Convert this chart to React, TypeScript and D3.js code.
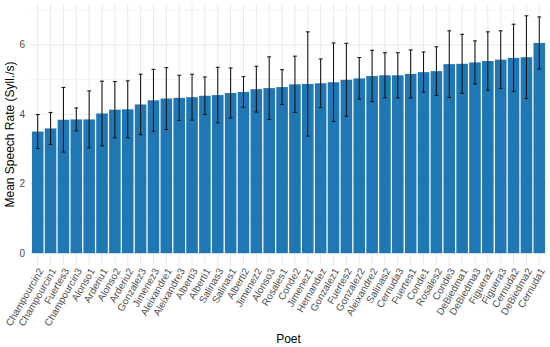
import React from "react";
import * as d3 from "d3";

const poets = [
  "Champourcin2", "Champourcin1", "Fuertes3", "Champourcin3", "Alonso1", "Arderiu1", "Alonso2", "Arderiu2",
  "Gonzalez3", "Jimenez3", "Aleixandre1", "Aleixandre3", "Alberti3", "Alberti1", "Salinas3", "Salinas1",
  "Alberti2", "Jimenez2", "Alonso3", "Rosales1", "Conde2", "Jimenez1", "Hernandez", "Gonzalez1",
  "Fuertes2", "Gonzalez2", "Aleixandre2", "Salinas2", "Cernuda3", "Fuertes1", "Conde1", "Rosales2",
  "Conde3", "DeBiedma1", "DeBiedma3", "Figuera2", "Figuera3", "Cernuda2", "DeBiedma2", "Cernuda1",
];

const meanRate = [
  3.5, 3.59, 3.84, 3.85, 3.85, 4.02, 4.13, 4.14,
  4.28, 4.4, 4.45, 4.47, 4.49, 4.53, 4.55, 4.61,
  4.64, 4.72, 4.75, 4.78, 4.86, 4.87, 4.89, 4.92,
  4.99, 5.03, 5.1, 5.12, 5.12, 5.16, 5.21, 5.24,
  5.44, 5.45, 5.49, 5.53, 5.57, 5.62, 5.64, 6.05,
];

const sdRate = [
  0.49, 0.46, 0.93, 0.33, 0.82, 0.93, 0.81, 0.82,
  0.87, 0.89, 0.89, 0.65, 0.66, 0.54, 0.8, 0.72,
  0.44, 0.66, 0.9, 0.5, 0.81, 1.5, 0.7, 1.13,
  1.05, 0.6, 0.74, 0.65, 0.65, 0.69, 0.58, 0.7,
  0.96, 0.85, 0.62, 0.84, 0.83, 0.97, 1.19, 0.75,
];

const yTicks = [0, 2, 4, 6];
const yMinor = [1, 3, 5, 7];

const W = 550;
const H = 347;
const panel = { left: 30, right: 547, top: 4, bottom: 265 };
const FONT = "'Liberation Sans', Arial, Helvetica, sans-serif";

export default function App() {
  const n = poets.length;
  const step = (panel.right - panel.left) / (n - 1 + 1.2);
  const x = d3
    .scalePoint<string>()
    .domain(poets)
    .range([panel.left + 0.6 * step, panel.right - 0.6 * step]);
  const barW = step * 0.9;
  const capW = step * 0.3;

  const hi = meanRate.map((m, i) => m + sdRate[i]);
  const yMax = d3.max(hi) as number;
  const pad = yMax * 0.05;
  const y = d3
    .scaleLinear()
    .domain([-pad, yMax + pad])
    .range([panel.bottom, panel.top]);

  return (
    <svg
      width={W}
      height={H}
      style={{ position: "absolute", left: 0, top: 0, background: "#fff" }}
      fontFamily={FONT}
    >
      {/* minor grid */}
      {yMinor
        .filter((v) => y(v) >= panel.top)
        .map((v) => (
          <line key={"mn" + v} x1={panel.left} x2={panel.right} y1={y(v)} y2={y(v)} stroke="#ebebeb" strokeWidth={0.55} />
        ))}
      {/* major grid */}
      {yTicks.map((v) => (
        <line key={"mj" + v} x1={panel.left} x2={panel.right} y1={y(v)} y2={y(v)} stroke="#ebebeb" strokeWidth={1.07} />
      ))}
      {poets.map((p) => (
        <line key={"vg" + p} x1={x(p)} x2={x(p)} y1={panel.top} y2={panel.bottom} stroke="#ebebeb" strokeWidth={1.07} />
      ))}
      {/* bars */}
      {poets.map((p, i) => (
        <rect
          key={"b" + p}
          x={(x(p) as number) - barW / 2}
          width={barW}
          y={y(meanRate[i])}
          height={y(0) - y(meanRate[i])}
          fill="#1f77b4"
        />
      ))}
      {/* error bars */}
      {poets.map((p, i) => {
        const cx = x(p) as number;
        const y1 = y(meanRate[i] + sdRate[i]);
        const y2 = y(meanRate[i] - sdRate[i]);
        return (
          <g key={"e" + p} stroke="#111" strokeWidth={1.05}>
            <line x1={cx} x2={cx} y1={y1} y2={y2} />
            <line x1={cx - capW / 2} x2={cx + capW / 2} y1={y1} y2={y1} />
            <line x1={cx - capW / 2} x2={cx + capW / 2} y1={y2} y2={y2} />
          </g>
        );
      })}
      {/* y tick labels */}
      {yTicks.map((v) => (
        <text key={"yt" + v} x={panel.left - 5} y={y(v)} dy="0.35em" textAnchor="end" fontSize={10} fill="#4d4d4d">
          {v}
        </text>
      ))}
      {/* x tick labels */}
      {poets.map((p) => {
        const cx = (x(p) as number) + 3;
        const ty = panel.bottom + 4;
        return (
          <text
            key={"xt" + p}
            x={cx}
            y={ty}
            transform={`rotate(-60, ${cx}, ${ty})`}
            textAnchor="end"
            dy="0.35em"
            fontSize={10}
            fill="#4d4d4d"
          >
            {p}
          </text>
        );
      })}
      {/* axis titles */}
      <text x={(panel.left + panel.right) / 2} y={343} textAnchor="middle" fontSize={12} fill="#000">
        Poet
      </text>
      <text
        x={0}
        y={0}
        transform={`translate(14, ${(panel.top + panel.bottom) / 2}) rotate(-90)`}
        textAnchor="middle"
        fontSize={12}
        fill="#000"
      >
        Mean Speech Rate (Syll./s)
      </text>
    </svg>
  );
}
